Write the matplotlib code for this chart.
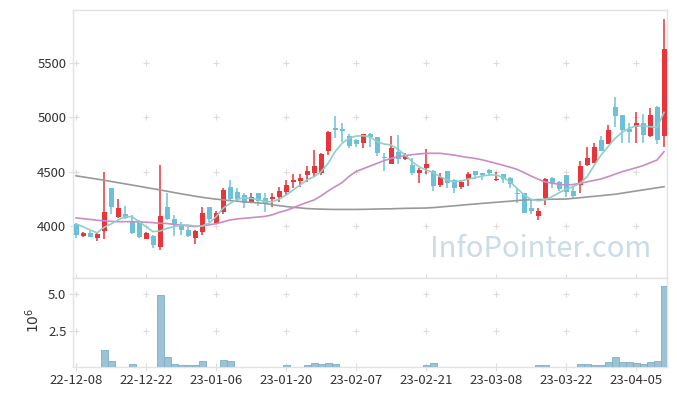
import matplotlib
matplotlib.use('Agg')
import matplotlib.pyplot as plt
import numpy as np

plt.rcParams['font.family'] = ['Noto Sans CJK KR', 'DejaVu Sans']

# daily candles, 22-12-08 .. 23-04-11 (trading days)
opens = [4016, 3905, 3930, 3884, 3950, 4348, 4078, 4108, 4043, 4046,
         3880, 3905, 3800, 4172, 4059, 4003, 3960, 3884, 3945, 4172,
         4022, 4124, 4357, 4311, 4283, 4221, 4298, 4253, 4249, 4265,
         4308, 4403, 4412, 4468, 4483, 4483, 4692, 4898, 4892, 4830,
         4790, 4766, 4843, 4818, 4630, 4572, 4680, 4618, 4560, 4489,
         4529, 4505, 4375, 4502, 4422, 4360, 4434, 4502, 4483, 4511,
         4419, 4474, 4443, 4298, 4304, 4163, 4092, 4253, 4437, 4403,
         4468, 4320, 4375, 4563, 4581, 4790, 4754, 5095, 5021, 4892,
         4913, 4947, 4827, 5095, 4830]
highs = [4025, 3945, 3951, 3935, 4495, 4350, 4243, 4182, 4096, 4050,
         3945, 3915, 4560, 4298, 4101, 4030, 3985, 3960, 4170, 4175,
         4133, 4348, 4422, 4348, 4304, 4298, 4300, 4298, 4298, 4360,
         4421, 4474, 4480, 4553, 4698, 4668, 4876, 5015, 4945, 4843,
         4800, 4850, 4852, 4820, 4668, 4827, 4834, 4673, 4621, 4529,
         4705, 4510, 4483, 4505, 4430, 4420, 4492, 4505, 4490, 4525,
         4498, 4480, 4445, 4345, 4306, 4237, 4163, 4440, 4445, 4410,
         4470, 4360, 4594, 4723, 4760, 4827, 4929, 5190, 5025, 4950,
         5052, 5028, 5083, 5100, 5904]
lows = [3884, 3893, 3893, 3862, 3875, 4105, 4068, 4062, 3925, 3889,
        3875, 3791, 3776, 4052, 3905, 3917, 3900, 3828, 3917, 4037,
        4015, 4110, 4240, 4230, 4160, 4210, 4182, 4129, 4175, 4221,
        4283, 4351, 4360, 4406, 4452, 4470, 4652, 4806, 4775, 4720,
        4729, 4714, 4729, 4643, 4505, 4565, 4569, 4606, 4468, 4397,
        4477, 4320, 4354, 4345, 4298, 4339, 4366, 4431, 4422, 4460,
        4415, 4397, 4345, 4206, 4114, 4105, 4053, 4191, 4345, 4320,
        4262, 4253, 4304, 4555, 4575, 4692, 4750, 4913, 4760, 4760,
        4760, 4760, 4820, 4754, 4729]
closes = [3915, 3930, 3896, 3923, 4126, 4170, 4163, 4068, 3935, 3898,
          3930, 3822, 4089, 4062, 4006, 3957, 3908, 3951, 4120, 4059,
          4117, 4329, 4246, 4249, 4206, 4268, 4230, 4197, 4267, 4320,
          4375, 4421, 4443, 4505, 4551, 4661, 4862, 4886, 4876, 4738,
          4751, 4843, 4822, 4673, 4621, 4720, 4612, 4646, 4489, 4514,
          4569, 4369, 4449, 4397, 4351, 4400, 4477, 4468, 4470, 4489,
          4428, 4434, 4388, 4292, 4120, 4136, 4136, 4428, 4391, 4339,
          4308, 4277, 4551, 4625, 4726, 4692, 4883, 5015, 4886, 4867,
          4947, 4837, 5021, 4791, 5630]
ma5 = [4016, 3991, 3960, 3935, 3985, 4016, 4053, 4083, 4083, 4037,
       3991, 3945, 3951, 3976, 3991, 4006, 4006, 3997, 3997, 4022,
       4083, 4160, 4206, 4243, 4258, 4252, 4243, 4221, 4221, 4243,
       4283, 4329, 4375, 4422, 4452, 4498, 4575, 4683, 4760, 4806,
       4827, 4830, 4821, 4775, 4754, 4744, 4705, 4652, 4590, 4544,
       4514, 4492, 4452, 4422, 4406, 4413, 4430, 4442, 4458, 4468,
       4468, 4446, 4406, 4345, 4283, 4243, 4230, 4240, 4268, 4304,
       4336, 4360, 4391, 4452, 4554, 4652, 4729, 4806, 4861, 4898,
       4920, 4920, 4913, 4907, 5046]
ma20 = [4072, 4065, 4058, 4050, 4046, 4040, 4037, 4037, 4037, 4035,
        4032, 4028, 4022, 4020, 4012, 4005, 3998, 3992, 3998, 4008,
        4018, 4035, 4053, 4062, 4068, 4074, 4080, 4086, 4100, 4123,
        4140, 4165, 4191, 4215, 4237, 4275, 4320, 4360, 4397, 4455,
        4500, 4525, 4550, 4575, 4600, 4621, 4635, 4646, 4655, 4662,
        4668, 4668, 4668, 4660, 4652, 4640, 4630, 4621, 4608, 4592,
        4575, 4558, 4540, 4520, 4490, 4458, 4430, 4404, 4392, 4382,
        4375, 4380, 4391, 4405, 4418, 4431, 4452, 4475, 4498, 4516,
        4535, 4554, 4580, 4606, 4683]
ma60 = [4460, 4450, 4440, 4430, 4420, 4408, 4397, 4386, 4375, 4364,
        4352, 4341, 4330, 4318, 4306, 4294, 4283, 4272, 4262, 4253,
        4245, 4238, 4232, 4226, 4220, 4215, 4210, 4205, 4195, 4185,
        4177, 4170, 4164, 4158, 4155, 4153, 4151, 4150, 4150, 4150,
        4150, 4151, 4152, 4154, 4155, 4156, 4158, 4160, 4161, 4162,
        4163, 4167, 4172, 4178, 4183, 4189, 4195, 4200, 4206, 4211,
        4216, 4221, 4226, 4232, 4237, 4239, 4241, 4243, 4244, 4245,
        4246, 4252, 4258, 4265, 4271, 4277, 4284, 4290, 4300, 4310,
        4320, 4330, 4340, 4350, 4360]
volume = [0, 0, 0, 0, 1.16e6, 0.43e6, 0.05e6, 0.05e6, 0.2e6, 0.03e6,
          0.03e6, 0.03e6, 4.95e6, 0.68e6, 0.2e6, 0.14e6, 0.14e6, 0.14e6, 0.43e6, 0.04e6,
          0.04e6, 0.5e6, 0.43e6, 0.04e6, 0.04e6, 0.04e6, 0.04e6, 0.04e6, 0.04e6, 0.04e6,
          0.14e6, 0.04e6, 0.04e6, 0.14e6, 0.27e6, 0.2e6, 0.27e6, 0.2e6, 0.04e6, 0.04e6,
          0.04e6, 0.04e6, 0.04e6, 0.04e6, 0.04e6, 0.04e6, 0.04e6, 0.04e6, 0.04e6, 0.04e6,
          0.15e6, 0.27e6, 0.04e6, 0.04e6, 0, 0, 0.04e6, 0, 0.04e6, 0.04e6,
          0.04e6, 0.04e6, 0.04e6, 0.04e6, 0.04e6, 0.04e6, 0.14e6, 0.14e6, 0.04e6, 0.04e6,
          0.04e6, 0.04e6, 0.2e6, 0.2e6, 0.14e6, 0.14e6, 0.34e6, 0.68e6, 0.34e6, 0.34e6,
          0.27e6, 0.2e6, 0.34e6, 0.43e6, 5.57e6]
tick_labels = ['22-12-08', '22-12-22', '23-01-06', '23-01-20', '23-02-07',
               '23-02-21', '23-03-08', '23-03-22', '23-04-05']

up_col = '#e8353b'
down_col = '#6cc1d9'
grid_col = '#dcdcdc'

n = len(closes)
x = np.arange(n)
o = np.array(opens, float)
c = np.array(closes, float)
up = c >= o

fig = plt.figure(figsize=(6.77, 3.96), dpi=100)
ax = fig.add_axes([0.1083, 0.2987, 0.877, 0.676])
ax_v = fig.add_axes([0.1083, 0.0725, 0.877, 0.2263], sharex=ax)

cols = np.where(up, up_col, down_col)
ax.vlines(x, lows, highs, colors=cols, lw=1.1, zorder=3)
bottoms = np.minimum(o, c)
heights = np.maximum(np.abs(c - o), 10)
ax.bar(x, heights, bottom=bottoms, width=0.72, color=cols, lw=0, zorder=4)

ax.plot(x, ma60, color='#999999', lw=1.2, zorder=5)
ax.plot(x, ma20, color='#cb8bc6', lw=1.2, zorder=5)
ax.plot(x, ma5, color='#8fcfc7', lw=1.2, zorder=5)

ax_v.bar(x, volume, width=1.0, color='#9cc3d5', edgecolor='#7eaec4', lw=0.6, zorder=3)

xt = list(range(0, n, 10))[:len(tick_labels)]
ax.set_xlim(-0.39, 84.43)
ax.set_ylim(3520, 5990)
ax_v.set_ylim(0, 6.12e6)

yt = [4000, 4500, 5000, 5500]
vt = [2.5e6, 5.0e6]
ax.set_yticks(yt)
ax.set_yticklabels([str(v) for v in yt])
ax.set_xticks(xt)
ax.tick_params(axis='x', labelbottom=False)
ax_v.set_xticks(xt)
ax_v.set_xticklabels(tick_labels)
ax_v.set_yticks(vt)
ax_v.set_yticklabels(['2.5', '5.0'])
ax_v.set_ylabel('$10^6$', fontsize=10, color='#333333')
ax_v.yaxis.set_label_coords(-0.052, 0.52)

for a in (ax, ax_v):
    a.tick_params(direction='inout', length=6, width=0.8, color=grid_col,
                  labelsize=9.5, labelcolor='#333333', pad=2)
    for s in a.spines.values():
        s.set_color('#e3e3e3')
        s.set_linewidth(1)

# plus-shaped grid marks
gx, gy = np.meshgrid(xt, yt)
ax.plot(gx.ravel(), gy.ravel(), '+', color=grid_col, ms=5, mew=0.8, zorder=1)
gx, gy = np.meshgrid(xt, vt)
ax_v.plot(gx.ravel(), gy.ravel(), '+', color=grid_col, ms=5, mew=0.8, zorder=1)

fig.text(0.799, 0.371, 'InfoPointer.com', fontsize=21, color='#c9dce7',
         ha='center', va='center', zorder=0)

fig.savefig('out.png', dpi=100)
